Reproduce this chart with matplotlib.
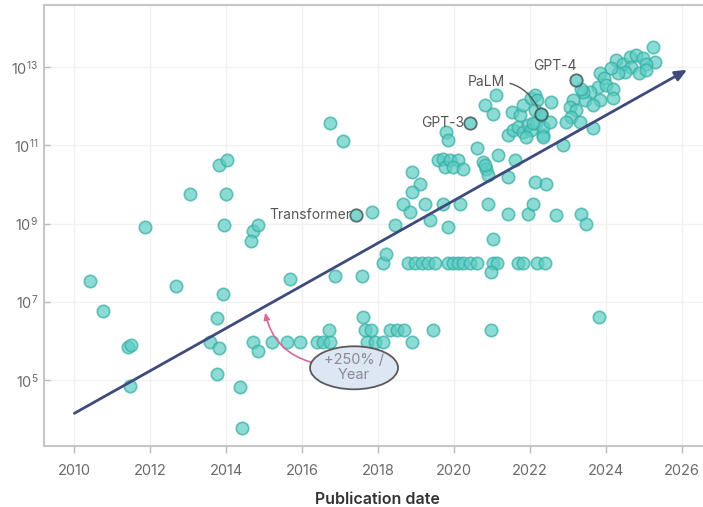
import numpy as np
import matplotlib
matplotlib.use("Agg")
import matplotlib.pyplot as plt
from matplotlib.patches import Ellipse

plt.rcParams["font.family"] = ["Inter", "DejaVu Sans"]

# publication year and log10(parameter count) of each model
years = [
    2010.42, 2010.75, 2011.41, 2011.50, 2011.47, 2011.87, 2012.68, 2013.05,
    2013.80, 2014.02, 2014.00, 2013.95, 2013.93, 2013.76, 2013.58, 2013.80,
    2013.76, 2014.37, 2014.41, 2014.70, 2014.85, 2014.66, 2014.70, 2014.85,
    2015.67, 2016.74, 2017.07, 2016.87, 2017.57, 2017.84, 2017.60,
    2015.20, 2015.60, 2015.95, 2016.39, 2016.56, 2016.74, 2017.70, 2017.93,
    2018.14, 2018.89,
    2016.72, 2017.66, 2017.83, 2018.32, 2018.49, 2018.69, 2019.44,
    2018.14, 2018.80, 2018.97, 2019.15, 2019.32, 2019.50, 2019.85, 2019.98,
    2020.11, 2020.24, 2020.42, 2020.60, 2021.03, 2021.15, 2021.69, 2021.82,
    2022.19, 2022.40,
    2018.22, 2020.99, 2021.03, 2020.99, 2023.82,
    2018.89, 2019.11, 2018.89, 2018.67, 2018.84, 2019.24, 2019.72, 2020.16,
    2020.90, 2021.43, 2021.96, 2022.09, 2019.37, 2019.85, 2018.45,
    2019.59, 2019.72, 2019.76, 2019.89, 2020.11, 2019.98, 2020.24, 2020.77,
    2020.86, 2020.90, 2021.43, 2019.80, 2019.85, 2020.60, 2021.17, 2021.60,
    2022.13, 2022.44, 2020.82, 2021.03, 2021.12, 2021.52, 2021.74, 2021.82,
    2022.04, 2022.13, 2021.43, 2021.56, 2021.69, 2021.82, 2021.95, 2022.04,
    2022.17, 2021.91, 2022.35, 2022.35, 2020.82, 2022.70, 2023.36, 2023.49,
    2025.25, 2025.29, 2024.28, 2024.45, 2024.63, 2024.80, 2024.98, 2025.07,
    2024.68, 2024.50, 2024.32, 2024.89, 2025.07, 2024.15, 2023.84, 2023.97,
    2023.80, 2024.02, 2024.19, 2023.58, 2023.45, 2023.84, 2024.19, 2023.67,
    2023.40, 2023.36, 2023.14, 2023.05, 2023.23, 2023.10, 2023.32, 2022.96,
    2023.67, 2022.88, 2022.35, 2022.57, 2022.18, 2022.13, 2022.31, 2022.53,
    2022.09,
]
log_params = [
    7.54, 6.77, 5.83, 5.90, 4.85, 8.90, 7.41, 9.76,
    10.50, 10.62, 9.76, 8.97, 7.21, 6.58, 5.96, 5.81,
    5.16, 4.83, 3.78, 8.80, 8.95, 8.54, 5.96, 5.74,
    7.58, 11.57, 11.11, 7.67, 7.67, 9.29, 6.60,
    5.96, 5.96, 5.96, 5.96, 5.96, 5.96, 5.96, 5.96,
    5.96, 5.96,
    6.28, 6.28, 6.28, 6.28, 6.28, 6.28, 6.28,
    8.00, 8.00, 8.00, 8.00, 8.00, 8.00, 8.00, 8.00,
    8.00, 8.00, 8.00, 8.00, 8.00, 8.00, 8.00, 8.00,
    8.00, 8.00,
    8.22, 7.75, 8.61, 6.27, 6.62,
    10.32, 10.02, 9.80, 9.50, 9.29, 9.50, 9.50, 9.50,
    9.50, 9.25, 9.25, 9.50, 9.08, 8.90, 8.95,
    10.62, 10.66, 10.44, 10.62, 10.63, 10.44, 10.40, 10.57,
    10.40, 10.23, 10.19, 11.34, 11.13, 10.94, 10.74, 10.62,
    10.06, 10.02, 12.03, 11.81, 12.28, 11.85, 11.77, 12.03,
    12.20, 12.28, 11.26, 11.38, 11.47, 11.34, 11.51, 11.38,
    11.56, 11.21, 11.26, 11.47, 10.49, 9.21, 9.25, 8.99,
    13.52, 13.14, 13.18, 13.09, 13.26, 13.31, 13.22, 13.09,
    13.01, 12.88, 12.84, 12.84, 12.92, 12.97, 12.84, 12.71,
    12.49, 12.54, 12.45, 12.37, 12.15, 12.15, 12.20, 12.03,
    12.37, 12.45, 12.15, 11.98, 11.90, 11.73, 11.60, 11.60,
    11.43, 11.00, 11.21, 12.11, 12.15, 11.90, 11.77, 11.60,
    11.56,
]

# highlighted models
named_models = ["Transformer", "GPT-3", "PaLM", "GPT-4"]
named_years = [2017.42, 2020.42, 2022.29, 2023.21]
named_log_params = [9.23, 11.57, 11.79, 12.68]

# exponential trend: +250% per year
trend_start_year = 2010.0
trend_end_year = 2026.15
trend_start_value = 1.4e4
trend_growth = 3.5

params = 10 ** np.array(log_params)
named_params = 10 ** np.array(named_log_params)

fig = plt.figure(figsize=(7.03, 5.07), dpi=100)
ax = fig.add_axes([0.0626, 0.1203, 0.950, 0.870])
ax.set_yscale("log")
ax.set_xlim(2009.2, 2026.8)
ax.set_ylim(10 ** 3.31, 10 ** 14.59)

ax.grid(True, color="#f1f1f1", linewidth=1.0, zorder=0)
ax.set_axisbelow(True)

ax.scatter(years, params, s=80, facecolor="#5ccdc3", edgecolor="#33ada3",
           linewidth=1.2, alpha=0.7, zorder=3)
ax.scatter(named_years, named_params, s=80, facecolor="#5ccdc3",
           edgecolor="#3d4f50", linewidth=1.3, alpha=0.8, zorder=4)

# trend arrow
trend_end_value = trend_start_value * trend_growth ** (trend_end_year - trend_start_year)
ax.annotate("", xy=(trend_end_year, trend_end_value),
            xytext=(trend_start_year, trend_start_value),
            arrowprops=dict(arrowstyle="-|>,head_length=0.7,head_width=0.3",
                            color="#3e4b7c", lw=2.0, shrinkA=0, shrinkB=0),
            zorder=5)

# model labels
lab_kw = dict(fontsize=10, color="#555555", textcoords="offset points", zorder=6)
ax.annotate(named_models[0], (named_years[0], named_params[0]), xytext=(-3, 0),
            ha="right", va="center", **lab_kw)
ax.annotate(named_models[1], (named_years[1], named_params[1]), xytext=(-4, 0),
            ha="right", va="center", **lab_kw)
ax.annotate(named_models[2], (named_years[2], named_params[2]), xytext=(-26, 23),
            ha="right", va="center",
            arrowprops=dict(arrowstyle="-", color="#555555", lw=1.0,
                            connectionstyle="arc3,rad=-0.4", shrinkA=2, shrinkB=4),
            **lab_kw)
ax.annotate(named_models[3], (named_years[3], named_params[3]), xytext=(1, 10),
            ha="right", va="center", **lab_kw)

# growth-rate callout
fig.canvas.draw()
to_axes = ax.transAxes.inverted()
cx, cy = to_axes.transform(ax.transData.transform((2017.37, 10 ** 5.31)))
ax.add_patch(Ellipse((cx, cy), 88 / 668, 43 / 441, transform=ax.transAxes,
                     facecolor="#dde6f3", edgecolor="#5a5a5a", lw=1.3, zorder=6))
ax.text(cx, cy, "+250% /\nYear", transform=ax.transAxes, ha="center",
        va="center", fontsize=10.5, color="#8a8a94", linespacing=1.1, zorder=7)
tail = ax.transData.inverted().transform(
    ax.transAxes.transform((cx - 0.063, cy + 0.012)))
ax.annotate("", xy=(2015.03, 10 ** 6.72), xytext=tuple(tail),
            arrowprops=dict(arrowstyle="-|>,head_length=0.4,head_width=0.18",
                            color="#d8679a", lw=1.2, shrinkA=0, shrinkB=0,
                            connectionstyle="arc3,rad=-0.3"),
            zorder=5)

ax.set_xticks(range(2010, 2027, 2))
ax.set_yticks([1e5, 1e7, 1e9, 1e11, 1e13])
ax.minorticks_off()
ax.tick_params(axis="x", direction="out", length=5, width=1, color="#bbbbbb",
               labelsize=10.5, labelcolor="#6a6a6a", pad=8)
ax.tick_params(axis="y", direction="in", length=4, width=1, color="#bbbbbb",
               labelsize=10.5, labelcolor="#6a6a6a", pad=4)
for side in ["left", "bottom", "top"]:
    ax.spines[side].set_color("#c6c6c6")
    ax.spines[side].set_linewidth(1.5)
ax.spines["right"].set_visible(False)

ax.set_xlabel("Publication date", fontsize=11.5, color="#333333",
              fontweight="semibold", labelpad=10)

fig.savefig("out.png", dpi=100)
